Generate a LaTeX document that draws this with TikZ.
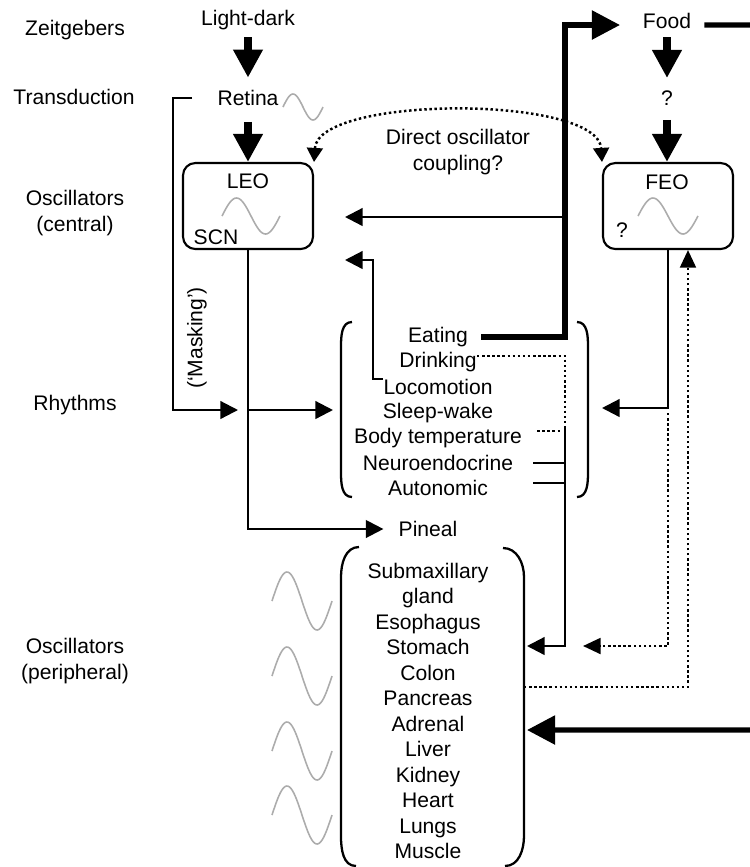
\documentclass[tikz,border=0pt]{standalone}
\usepackage{fontspec}
\setmainfont{Liberation Sans}
\usepackage{tikz}
\usetikzlibrary{arrows.meta}
\usetikzlibrary{positioning}

\begin{document}
\begin{tikzpicture}[
    x=0.02cm, y=-0.02cm,
    font=\fontsize{12}{14.5}\selectfont
  ]

  % Global Style Definitions
  \tikzset{
    txt/.style={inner sep=0pt, align=center},
    osc/.style={draw, rounded corners=7pt, line width=1.2pt, minimum width=2.6cm, minimum height=1.72cm},
    wire/.style={line width=1.3pt},
    link/.style={wire, -{Triangle[length=10pt,width=10pt]}},
    heavy/.style={line width=3pt, -{Triangle[length=16pt,width=16pt]}},
    bigarrow/.style={line width=4.5pt, -{Triangle[length=16pt,width=16pt]}},
    dotline/.style={line width=1.4pt, dash pattern=on 1.4pt off 1.5pt},
    dotarrow/.style={dotline, -{Triangle[length=10pt,width=9pt]}},
    wave/.style={gray!65, line width=0.9pt, smooth},
    brace/.style={line width=1.3pt}
  }

  \clip (0,0) rectangle (750,867);

  % Row labels
  \node (zeit)  [txt] at (75,30)  {Zeitgebers};
  \node (trans) [txt] at (74,97)  {Transduction};
  \node (cosc)  [txt] at (75,213) {Oscillators\\(central)};
  \node (rhy)   [txt] at (75,405) {Rhythms};
  \node (posc)  [txt] at (75,661) {Oscillators\\(peripheral)};

  % Light pathway
  \node (light)   [txt] at (248,20) {Light-dark};
  \node (retina)  [txt] at (248,98) {Retina};
  \node (leo)     [osc] at (248,206) {};
  \node (leoname) [txt] at (248,181) {LEO};
  \node (scn)     [txt] at (216,237) {SCN};
  \node (mask)    [txt, rotate=90] at (197,338) {(‘Masking’)};

  % Food pathway
  \node (food)    [txt] at (667,21) {Food};
  \node (q)       [txt] at (667,98) {?};
  \node (feo)     [osc] at (668,206) {};
  \node (feoname) [txt] at (667,182) {FEO};
  \node (feoq)    [txt] at (622,230) {?};
  \node (coupling) [txt] at (458,152) {Direct oscillator\\coupling?};

  % Rhythms
  \node (eating) [txt] at (438,337) {Eating};
  \node (drink)  [txt] at (438,362) {Drinking};
  \node (loco)   [txt] at (438,387) {Locomotion};
  \node (sleep)  [txt] at (438,413) {Sleep-wake};
  \node (btemp)  [txt] at (438,438) {Body temperature};
  \node (neuro)  [txt] at (438,463) {Neuroendocrine};
  \node (auton)  [txt] at (438,488) {Autonomic};
  \node (pineal) [txt] at (428,529) {Pineal};

  % Peripheral oscillators
  \node (organs) [txt] at (428,711) {Submaxillary\\gland\\Esophagus\\Stomach\\Colon\\Pancreas\\Adrenal\\Liver\\Kidney\\Heart\\Lungs\\Muscle};

  % Brackets
  \draw[brace] (352,322) to[out=180,in=90] (341,347) -- (341,472) to[out=-90,in=180] (352,497);
  \draw[brace] (577,322) to[out=0,in=90] (588,347) -- (588,472) to[out=-90,in=0] (577,497);
  \draw[brace] (359,547) to[out=180,in=90] (341,577) -- (341,836) to[out=-90,in=180] (356,866);
  \draw[brace] (503,548) to[out=0,in=90] (524,577) -- (524,836) to[out=-90,in=0] (505,866);

  % Oscillation waves
  \draw[wave] plot[domain=0:360, samples=50] ({283+\x/9}, {107-13*sin(\x)});
  \draw[wave] plot[domain=0:360, samples=50] ({222+\x*0.1611}, {216-18*sin(\x)});
  \draw[wave] plot[domain=0:360, samples=50] ({638+\x/6}, {216-18*sin(\x)});
  \draw[wave] plot[domain=0:360, samples=50] ({272+\x/6}, {601-29*sin(\x)});
  \draw[wave] plot[domain=0:360, samples=50] ({272+\x/6}, {676-29*sin(\x)});
  \draw[wave] plot[domain=0:360, samples=50] ({272+\x/6}, {751-29*sin(\x)});
  \draw[wave] plot[domain=0:360, samples=50] ({272+\x/6}, {815-29*sin(\x)});

  % Free ends of connectors
  \coordinate (rjoin)   at (248,410);
  \coordinate (rhyin)   at (333,410);
  \coordinate (ebend)   at (565,337);
  \coordinate (foodin)  at (620,25);
  \coordinate (adrin)   at (527,730);
  \coordinate (ejoin)   at (565,217);
  \coordinate (leoin)   at (345,217);
  \coordinate (locoin)  at (345,260);
  \coordinate (rbus)    at (565,427);
  \coordinate (stomin)  at (527,646);
  \coordinate (rhyr)    at (602,408);
  \coordinate (fjoin)   at (668,413);
  \coordinate (stomdot) at (583,646);
  \coordinate (pancr)   at (524,687);

  % Zeitgeber inputs
  \draw[bigarrow, shorten <=4pt, shorten >=7pt] (light) -- (retina);
  \draw[bigarrow, shorten <=9pt] (retina) -- (leo);
  \draw[bigarrow, shorten <=4.5pt, shorten >=7pt] (food) -- (q);
  \draw[bigarrow, shorten <=8pt] (q) -- (q |- feo.north);

  % Masking and LEO outputs
  \draw[link] ([xshift=-0.5cm]retina.west) -- ++(-19,0) |- ([xshift=-0.2cm]rjoin);
  \draw[link, shorten >=8.5pt] (leo.south) |- (pineal.west);
  \draw[link] (rjoin) -- (rhyin);

  % Feeding loop
  \draw[heavy] ([xshift=0.26cm]eating.east) -- (ebend) |- (foodin);
  \draw[heavy] ([xshift=0.26cm, yshift=-0.08cm]food.east) -- (790,25) |- (adrin);
  \draw[link] (ejoin) -- (leoin);
  \draw[link] (loco.north west) -- ++(-10,0) |- (locoin);

  % Rhythm outputs to periphery
  \draw[dotline] ([yshift=0.12cm]drink.east) -| (rbus);
  \draw[dotline] ([xshift=0.3cm, yshift=0.14cm]btemp.east) -- ++(23,0);
  \draw[wire] ([xshift=0.4cm]neuro.east) -- (neuro.east -| rbus);
  \draw[wire] ([xshift=0.9cm, yshift=0.1cm]auton.east) -- ++(32,0);
  \draw[link] (rbus) |- (stomin);

  % FEO outputs and feedback
  \draw[link] (feo.south) |- (rhyr);
  \draw[dotarrow] (fjoin) |- (stomdot);
  \draw[dotarrow] (pancr) -| ([xshift=0.4cm]feo.south);
  \draw[dotline, {Triangle[length=8pt,width=9pt]}-{Triangle[length=8pt,width=9pt]}] (leo.north east) .. controls (318,95) and (598,95) .. (feo.north west);

\end{tikzpicture}
\end{document}
